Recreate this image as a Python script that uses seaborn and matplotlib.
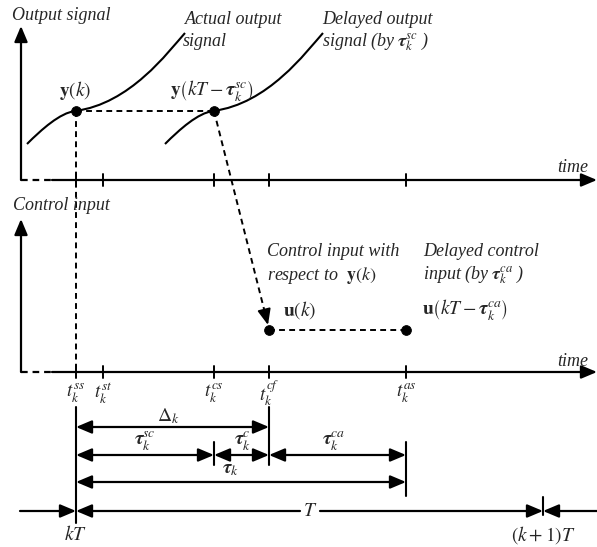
import matplotlib
matplotlib.use('Agg')
import matplotlib.pyplot as plt
import seaborn as sns
import pandas as pd
from matplotlib.path import Path
from matplotlib.patches import PathPatch, FancyArrowPatch

# sketch coordinates (x to the right, y downwards)
axis_x = 21
out_axis_y = 180
ctrl_axis_y = 372

# time instants t_k^ss ... t_k^as
tick_names = ['ss', 'st', 'cs', 'cf', 'as']
tick_x = [76, 103, 214, 269, 406]
kT_x = 76
kT1_x = 543

# output signal: cubic bezier control points, delayed copy shifted by tau_sc
curve_x = [27, 42, 60, 75, 130, 168, 185]
curve_y = [144, 129, 113, 111, 104, 52, 33]
delay_shift = 138

y_level = 111   # y(k) sample
u_level = 330   # u(k)

# interval arrows: start, end, row, label, label pos
iv_start = [76, 76, 214, 269, 76]
iv_end = [269, 214, 269, 406, 406]
iv_row = [427, 455, 455, 455, 482]
iv_label = [r'$\Delta_k$', r'$\boldsymbol{\tau}_k^{sc}$', r'$\boldsymbol{\tau}_k^{c}$',
            r'$\boldsymbol{\tau}_k^{ca}$', r'$\boldsymbol{\tau}_k$']
iv_lx = [168, 145, 242, 333, 230]
iv_ly = [416, 441, 441, 441, 470]

# vertical marker bars under the control axis (x, top, bottom)
bar_x = [76, 269, 214, 406, 543]
bar_top = [407, 407, 442, 442, 497]
bar_bot = [523, 465, 465, 496, 515]

T_row = 511

sns.set_theme(style='white')
plt.rcParams['font.family'] = ['Liberation Serif', 'DejaVu Serif']
plt.rcParams['mathtext.fontset'] = 'stix'

fig = plt.figure(figsize=(5.97, 5.47), dpi=100)
ax = fig.add_axes([0, 0, 1, 1])

LW = 1.6
DASH = (3, 2.2)
k = 'black'


def arrow(p0, p1, style, lw=LW):
    a = FancyArrowPatch(p0, p1, arrowstyle=style, mutation_scale=10, lw=lw,
                        color=k, shrinkA=0, shrinkB=0)
    ax.add_patch(a)


HEAD = '-|>,head_length=0.95,head_width=0.4'
BOTH = '<|-|>,head_length=0.95,head_width=0.4'

pts = pd.DataFrame({'x': [tick_x[0], tick_x[2], tick_x[3], tick_x[4]],
                    'y': [y_level, y_level, u_level, u_level]})
sns.scatterplot(data=pts, x='x', y='y', color=k, s=50, edgecolor=k, ax=ax, zorder=5)
ax.set_xlim(0, 597)
ax.set_ylim(547, 0)
ax.axis('off')

# axes of both panels
for ay, top in [(out_axis_y, 26), (ctrl_axis_y, 219)]:
    arrow((axis_x, ay), (axis_x, top), HEAD)
    ax.plot([axis_x, 52], [ay, ay], color=k, lw=LW, dashes=DASH)
    arrow((52, ay), (597, ay), HEAD)
    for tx in tick_x:
        ax.plot([tx, tx], [ay - 6, ay + 6], color=k, lw=1.4)

# output curves
codes = [Path.MOVETO] + [Path.CURVE4] * 6
for shift in [0, delay_shift]:
    verts = [(x + shift, y) for x, y in zip(curve_x, curve_y)]
    ax.add_patch(PathPatch(Path(verts, codes), fc='none', ec=k, lw=1.5))

# dashed links
ax.plot([tick_x[0], tick_x[2]], [y_level, y_level], color=k, lw=1.4, dashes=DASH)
ax.plot([tick_x[0], tick_x[0]], [y_level, ctrl_axis_y], color=k, lw=1.4, dashes=DASH)
ax.plot([tick_x[3], tick_x[4]], [u_level, u_level], color=k, lw=1.4, dashes=DASH)
tip = (tick_x[3] - 1, u_level - 5)
ax.plot([tick_x[2], tip[0] - 3], [y_level, tip[1] - 12], color=k, lw=1.4, dashes=DASH)
arrow((tip[0] - 3, tip[1] - 12), tip, HEAD, lw=1.4)

# interval arrows
for s, e, r, lab, lx, ly in zip(iv_start, iv_end, iv_row, iv_label, iv_lx, iv_ly):
    arrow((s, r), (e, r), BOTH)
    ax.text(lx, ly, lab, fontsize=14, ha='center', va='center')
for bx, bt, bb in zip(bar_x, bar_top, bar_bot):
    ax.plot([bx, bx], [bt, bb], color=k, lw=1.5)

# sampling period row
arrow((20, T_row), (kT_x, T_row), HEAD)
arrow((300, T_row), (kT_x, T_row), HEAD)
arrow((320, T_row), (kT1_x, T_row), HEAD)
arrow((597, T_row), (kT1_x, T_row), HEAD)
ax.text(310, T_row, '$T$', fontsize=14, ha='center', va='center')
ax.text(kT_x, 535, '$kT$', fontsize=14, ha='center', va='center')
ax.text(kT1_x, 535, r'$\left(k+1\right)T$', fontsize=14, ha='center', va='center')

# tick labels under the control axis
for name, tx in zip(tick_names, tick_x):
    ax.text(tx, 393, r'$t_k^{%s}$' % name, fontsize=13.5, ha='center', va='center')

# texts
it = dict(fontsize=13, style='italic', va='center')
ax.text(12, 15, 'Output signal', **it)
ax.text(185, 20, 'Actual output', **it)
ax.text(183, 42, 'signal', **it)
ax.text(322, 20, 'Delayed output', **it)
ax.text(322, 42, r'signal (by $\boldsymbol{\tau}_k^{sc}$ )', **it)
ax.text(557, 168, 'time', **it)
ax.text(557, 362, 'time', **it)
ax.text(13, 205, 'Control input', **it)
ax.text(267, 252, 'Control input with', **it)
ax.text(267, 275, r'respect to  $\mathbf{y}\left(k\right)$', **it)
ax.text(423, 252, 'Delayed control', **it)
ax.text(423, 275, r'input (by $\boldsymbol{\tau}_k^{ca}$ )', **it)

mt = dict(fontsize=14, va='center')
ax.text(75, 90, r'$\mathbf{y}\left(k\right)$', ha='center', **mt)
ax.text(212, 90, r'$\mathbf{y}\left(kT-\boldsymbol{\tau}_k^{sc}\right)$', ha='center', **mt)
ax.text(283, 310, r'$\mathbf{u}\left(k\right)$', ha='left', **mt)
ax.text(422, 310, r'$\mathbf{u}\left(kT-\boldsymbol{\tau}_k^{ca}\right)$', ha='left', **mt)

fig.savefig('out.png', dpi=100)
